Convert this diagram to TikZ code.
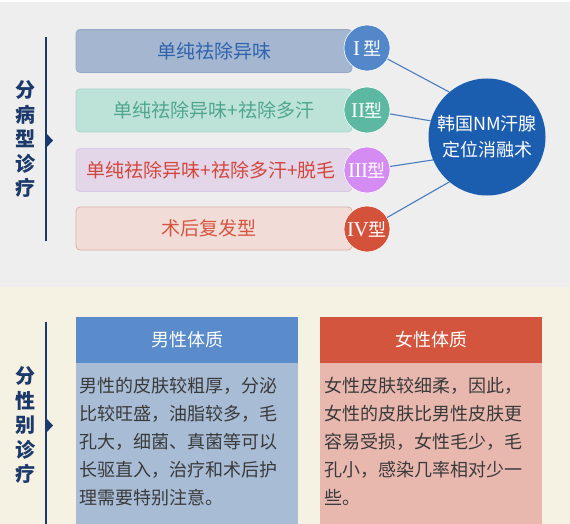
\documentclass[tikz,border=0pt]{standalone}
\usepackage{fontspec}
\setmainfont{Liberation Sans}
\newfontfamily\cjk{Noto Sans CJK SC}
\newfontfamily\romanfont{Liberation Serif}
\newcommand{\rn}[1]{{\romanfont\fontsize{21}{22}\selectfont #1}}
\definecolor{bgtop}{HTML}{EEEEEE}
\definecolor{bgbot}{HTML}{F6F2E3}
\definecolor{navy}{HTML}{1B3A6B}
\definecolor{barA}{HTML}{A4B6D0}\definecolor{barAd}{HTML}{94A8C6}\definecolor{txtA}{HTML}{2F63AE}\definecolor{cirA}{HTML}{5288CA}
\definecolor{barB}{HTML}{BDE2D8}\definecolor{barBd}{HTML}{A9D6CA}\definecolor{txtB}{HTML}{4EA78C}\definecolor{cirB}{HTML}{5CB8A1}
\definecolor{barC}{HTML}{E2D6E8}\definecolor{barCd}{HTML}{D8C8E8}\definecolor{txtC}{HTML}{D4463C}\definecolor{cirC}{HTML}{D48BF2}
\definecolor{barD}{HTML}{F2DCD8}\definecolor{barDd}{HTML}{DDB0A8}\definecolor{txtD}{HTML}{D7553F}\definecolor{cirD}{HTML}{D4513A}
\definecolor{big}{HTML}{1B5DAF}
\definecolor{link}{HTML}{4A7DC0}
\definecolor{hdL}{HTML}{5A8BCA}\definecolor{bdL}{HTML}{A8BCD6}
\definecolor{hdR}{HTML}{D4553E}\definecolor{bdR}{HTML}{E8B8AF}
\definecolor{bodytxt}{HTML}{3A3A3A}
\begin{document}
\begin{tikzpicture}[x=1pt,y=-1pt,
  bar/.style={rounded corners=4pt, line width=0.8pt, minimum width=276pt, minimum height=43pt, inner sep=0pt, font=\cjk\fontsize{19}{22}\selectfont},
  typecirc/.style={circle, minimum size=46pt, inner sep=0pt, text=white, draw=white, line width=0.6pt, font=\cjk\fontsize{18}{20}\selectfont},
  bigcirc/.style={circle, minimum size=117pt, inner sep=0pt, fill=big, text=white, align=center, font=\cjk\fontsize{18}{26}\selectfont},
  sidelabel/.style={align=center, text=navy, inner sep=0pt, font=\cjk\bfseries\fontsize{20}{24.5}\selectfont},
  navyline/.style={draw=navy, line width=1.8pt},
  linkline/.style={draw=link, line width=1.1pt},
  header/.style={minimum width=222pt, minimum height=46pt, inner sep=0pt, text=white, font=\cjk\fontsize{18}{20}\selectfont},
  bodybox/.style={minimum width=222pt, minimum height=161pt, inner sep=0pt},
  bodytext/.style={anchor=base west, inner sep=0pt, text=bodytxt, font=\cjk\fontsize{18}{20}\selectfont}
]
\useasboundingbox (0,0) rectangle (570,524);
\fill[bgtop] (0,0) rectangle (570,287);
\fill[white] (0,0) rectangle (570,2);
\fill[bgbot] (0,287) rectangle (570,524);

% top section
\draw[navyline] (46,37) -- (46,241);
\fill[navy] (46,133) -- (53,140.5) -- (46,148) -- cycle;
\node[sidelabel] (lab1) at (25,139) {分\\病\\型\\诊\\疗};

\node[bar, fill=barA, draw=barAd, text=txtA] (b1) at (214,51) {单纯祛除异味};
\node[bar, fill=barB, draw=barBd, text=txtB] (b2) at (214,110.5) {单纯祛除异味+祛除多汗};
\node[bar, fill=barC, draw=barCd, text=txtC] (b3) at (214,170) {\hspace*{-6pt}单纯祛除异味+祛除多汗+脱毛};
\node[bar, fill=barD, draw=barDd, text=txtD] (b4) at (214,228.5) {\hspace*{-10pt}术后复发型};

\node[bigcirc] (bg) at (487,137) {韩国NM汗腺\\定位消融术};

\node[typecirc, fill=cirA] (c1) at (367,48) {\rn{I}\,型};
\node[typecirc, fill=cirB] (c2) at (367,110) {\rn{II}型};
\node[typecirc, fill=cirC] (c3) at (367,170) {\rn{I\kern-0.5ptI\kern-0.5ptI}型};
\node[typecirc, fill=cirD] (c4) at (367,229) {\rn{I\kern-0.5ptV}型};

\draw[linkline] (c1) -- (bg.130);
\draw[linkline] (c2) -- (bg.164);
\draw[linkline] (c3) -- (bg.203);
\draw[linkline] (c4) -- (bg.230);

% bottom section
\draw[navyline] (46,322) -- (46,524);
\fill[navy] (46,418) -- (53,425.5) -- (46,433) -- cycle;
\node[sidelabel] (lab2) at (25,425) {分\\性\\别\\诊\\疗};

\node[header, fill=hdL] (hL) at (187,340) {男性体质};
\node[bodybox, fill=bdL, anchor=north] (bL) at (hL.south) {};
\node[header, fill=hdR] (hR) at (431,340) {女性体质};
\node[bodybox, fill=bdR, anchor=north] (bR) at (hR.south) {};

\foreach \t [count=\i] in {男性的皮肤较粗厚，分泌, 比较旺盛，油脂较多，毛, 孔大，细菌、真菌等可以, 长驱直入，治疗和术后护, 理需要特别注意。}
  \node[bodytext] (ml\i) at (79,364+28*\i) {\t};
\foreach \t [count=\i] in {女性皮肤较细柔，因此，, 女性的皮肤比男性皮肤更, 容易受损，女性毛少，毛, 孔小，感染几率相对少一, 些。}
  \node[bodytext] (fl\i) at (324,364+28*\i) {\t};
\end{tikzpicture}
\end{document}
